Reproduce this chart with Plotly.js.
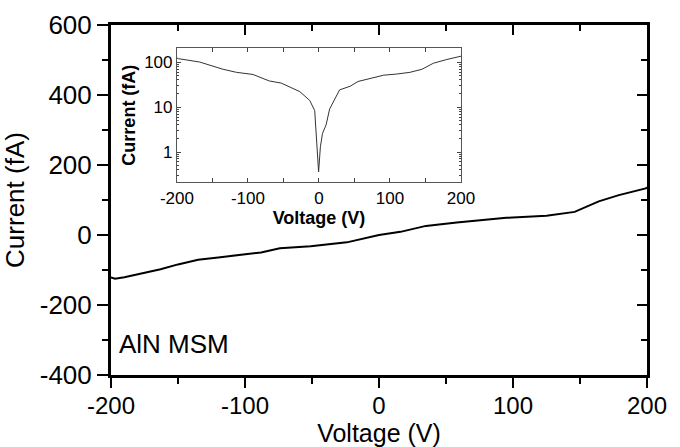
<!DOCTYPE html>
<html>
<head>
<meta charset="utf-8">
<script src="https://cdn.plot.ly/plotly-3.0.1.min.js"></script>
<style>
  html, body { margin: 0; padding: 0; background: #fff; }
  #chart { width: 680px; height: 447px; }
</style>
</head>
<body>
<div id="chart"></div>
<script>
// Main I-V curve (linear)
const mainVoltage = [-200, -197, -190, -175, -163, -150, -135, -120, -103, -88, -74, -59, -51, -24, -5, 0, 16, 35, 58, 75, 95, 125, 146, 164, 179, 199, 200];
const mainCurrent = [-121, -125, -121, -108, -98, -84, -71, -64, -57, -50, -38, -34, -32, -21, -5, 0, 9, 26, 36, 41, 49, 55, 66, 96, 114, 133, 136];

// Inset |I| (log scale)
const insetVoltage = [-200, -198, -168, -135, -116, -93, -70, -53, -27, -13, -6, -3, -0.5, 2, 5, 10, 15, 29, 32, 44, 55, 72, 91, 109, 128, 145, 161, 180, 196, 200];
const insetCurrent = [123, 119, 100, 69, 59, 53, 38, 34, 22, 14, 8.3, 1.9, 0.36, 1.3, 2.6, 4, 9, 24, 25, 29, 37, 43, 51, 54, 59, 69, 94, 114, 131, 135];

const mainXTicks = [-200, -100, 0, 100, 200];
const mainYTicks = [-400, -200, 0, 200, 400, 600];
const insetXTicks = [-200, -100, 0, 100, 200];
const insetYTicks = [1, 10, 100];
const annotationText = 'AlN MSM';

const FONT = 'Liberation Sans, Arial, Helvetica, sans-serif';

const traces = [
  {
    x: mainVoltage, y: mainCurrent, type: 'scatter', mode: 'lines',
    line: { color: '#000', width: 2 }, xaxis: 'x', yaxis: 'y', hoverinfo: 'skip'
  },
  {
    x: [], y: [], type: 'scatter', mode: 'lines', xaxis: 'x3', yaxis: 'y3', hoverinfo: 'skip'
  },
  {
    x: insetVoltage, y: insetCurrent, type: 'scatter', mode: 'lines',
    line: { color: '#333', width: 1 }, xaxis: 'x2', yaxis: 'y2', hoverinfo: 'skip'
  }
];

const layout = {
  width: 680, height: 447,
  margin: { l: 111, r: 33, t: 25, b: 72, pad: 0 },
  paper_bgcolor: '#fff', plot_bgcolor: 'rgba(0,0,0,0)',
  showlegend: false,
  font: { family: FONT, color: '#000' },
  xaxis: {
    domain: [0, 1], range: [-200, 200], anchor: 'y',
    tickmode: 'array', tickvals: mainXTicks, ticktext: mainXTicks.map(String),
    ticks: 'outside', ticklen: 10, tickwidth: 2, tickcolor: '#000',
    minor: { ticks: 'outside', ticklen: 6, tickwidth: 2, tickcolor: '#000', dtick: 50, tick0: 0 },
    showline: true, linewidth: 3, linecolor: '#000',
    showgrid: false, zeroline: false,
    tickfont: { size: 24, family: FONT },
    ticklabelstandoff: -3,
    title: { text: 'Voltage (V)', font: { size: 25, family: FONT }, standoff: 0 },
    automargin: false
  },
  xaxis3: {
    overlaying: 'x', side: 'top', anchor: 'y3', range: [-200, 200],
    tickmode: 'linear', dtick: 100, tick0: 0,
    ticks: 'inside', ticklen: 10, tickwidth: 2, tickcolor: '#000',
    minor: { ticks: 'inside', ticklen: 6, tickwidth: 2, tickcolor: '#000', dtick: 50, tick0: 0 },
    showticklabels: false, showline: true, linewidth: 3, linecolor: '#000',
    showgrid: false, zeroline: false
  },
  yaxis: {
    domain: [0, 1], range: [-400, 600], anchor: 'x',
    tickmode: 'array', tickvals: mainYTicks, ticktext: mainYTicks.map(String),
    ticks: 'outside', ticklen: 11, tickwidth: 2, tickcolor: '#000',
    minor: { ticks: 'outside', ticklen: 6, tickwidth: 2, tickcolor: '#000', dtick: 100, tick0: 0 },
    showline: true, linewidth: 3, linecolor: '#000',
    showgrid: false, zeroline: false,
    tickfont: { size: 26, family: FONT },
    title: { text: 'Current (fA)', font: { size: 26, family: FONT }, standoff: 8 },
    automargin: false
  },
  yaxis3: {
    overlaying: 'y', side: 'right', anchor: 'x3', range: [-400, 600],
    tickmode: 'linear', dtick: 200, tick0: 0,
    ticks: 'inside', ticklen: 10, tickwidth: 2, tickcolor: '#000',
    minor: { ticks: 'inside', ticklen: 6, tickwidth: 2, tickcolor: '#000', dtick: 100, tick0: 0 },
    showticklabels: false, showline: true, linewidth: 3, linecolor: '#000',
    showgrid: false, zeroline: false
  },
  xaxis2: {
    domain: [0.123, 0.653], range: [-200, 200], anchor: 'y2',
    tickmode: 'array', tickvals: insetXTicks, ticktext: insetXTicks.map(String),
    ticks: 'inside', ticklen: 4, tickwidth: 1, tickcolor: '#444',
    minor: { ticks: 'inside', ticklen: 4, tickwidth: 1, tickcolor: '#444', dtick: 50, tick0: 0 },
    showline: true, linewidth: 1, linecolor: '#555', mirror: 'allticks',
    showgrid: false, zeroline: false,
    tickfont: { size: 17, family: FONT },
    title: { text: '<b>Voltage (V)</b>', font: { size: 18, family: FONT }, standoff: 1 },
    automargin: false
  },
  yaxis2: {
    domain: [0.551, 0.934], type: 'log', range: [-0.67, 2.31], anchor: 'x2',
    tickmode: 'array', tickvals: insetYTicks, ticktext: insetYTicks.map(String),
    ticks: 'inside', ticklen: 4, tickwidth: 1, tickcolor: '#444',
    minor: { ticks: 'inside', ticklen: 2, tickwidth: 1, tickcolor: '#444', dtick: 'D1' },
    showline: true, linewidth: 1, linecolor: '#555', mirror: 'allticks',
    showgrid: false, zeroline: false,
    tickfont: { size: 17, family: FONT },
    title: { text: '<b>Current (fA)</b>', font: { size: 18, family: FONT }, standoff: 3 },
    automargin: false
  },
  annotations: [
    {
      text: annotationText, xref: 'paper', yref: 'paper', x: 0.012, y: 0.089,
      xanchor: 'left', yanchor: 'middle', showarrow: false,
      font: { size: 26, family: FONT, color: '#000' }
    }
  ]
};

Plotly.newPlot('chart', traces, layout, { staticPlot: true, displayModeBar: false });
</script>
</body>
</html>
